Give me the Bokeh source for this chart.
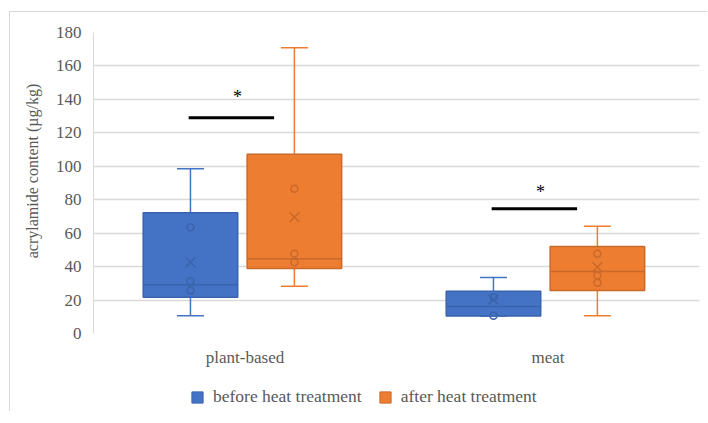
import numpy as np
from bokeh.plotting import figure
from bokeh.layouts import column
from bokeh.models import (ColumnDataSource, FactorRange, Range1d, FixedTicker,
                          Legend, LegendItem)
from bokeh.transform import dodge
from bokeh.core.properties import value
from bokeh.embed import file_html
from bokeh.resources import INLINE

# ---------------- data ----------------
categories = ["plant-based", "meat"]
series_names = ["before heat treatment", "after heat treatment"]

before_low = [10.6, 10.4]
before_q1 = [21.7, 10.4]
before_median = [29.1, 16.1]
before_q3 = [72.2, 25.3]
before_high = [98.5, 33.5]
before_mean = [42.6, 20.3]
before_pts_plant = [63.6, 31.3, 25.7]
before_pts_meat = [21.7, 10.6]

after_low = [28.3, 10.6]
after_q1 = [38.9, 25.7]
after_median = [44.7, 37.1]
after_q3 = [107.2, 52.0]
after_high = [170.9, 64.2]
after_mean = [69.6, 39.7]
after_pts_plant = [86.5, 47.7, 42.6]
after_pts_meat = [47.7, 34.7, 30.3]

sig_bar_y = [129.0, 74.6]
sig_star_y = [141.5, 84.5]
sig_label = ["*", "*"]

y_ticks = [0, 20, 40, 60, 80, 100, 120, 140, 160, 180]

# ---------------- styling ----------------
FONT = "Liberation Serif"
TXT = "#595959"
GRID = "#d9d9d9"
BLUE, BLUE_D = "#4472C4", "#3A63AD"
ORANGE, ORANGE_D = "#ED7D31", "#C9692A"
NBSP = "\u00a0"

p = figure(width=697, height=371, x_range=FactorRange(factors=categories),
           y_range=Range1d(0, 180), output_backend="svg", toolbar_location=None,
           min_border_left=83, min_border_right=8, min_border_top=20,
           min_border_bottom=50)
p.outline_line_color = None

BOX_W = 0.312
CAP_W = 0.089
offsets = [-0.18, 0.163]

specs = [
    (before_low, before_q1, before_median, before_q3, before_high, before_mean,
     before_pts_plant, before_pts_meat, BLUE, BLUE_D),
    (after_low, after_q1, after_median, after_q3, after_high, after_mean,
     after_pts_plant, after_pts_meat, ORANGE, ORANGE_D),
]
for (low, q1, med, q3, high, mean, pts_plant, pts_meat, col, dcol), off in zip(specs, offsets):
    src = ColumnDataSource(dict(cat=categories, low=low, q1=q1, med=med, q3=q3,
                                high=high, mean=mean))
    xc = dodge("cat", off, range=p.x_range)
    xl = dodge("cat", off - CAP_W / 2, range=p.x_range)
    xr = dodge("cat", off + CAP_W / 2, range=p.x_range)
    xbl = dodge("cat", off - BOX_W / 2, range=p.x_range)
    xbr = dodge("cat", off + BOX_W / 2, range=p.x_range)
    # whiskers
    p.segment(x0=xc, y0="q3", x1=xc, y1="high", source=src, line_color=col, line_width=1.5)
    p.segment(x0=xc, y0="low", x1=xc, y1="q1", source=src, line_color=col, line_width=1.5)
    p.segment(x0=xl, y0="high", x1=xr, y1="high", source=src, line_color=col, line_width=1.5)
    p.segment(x0=xl, y0="low", x1=xr, y1="low", source=src, line_color=col, line_width=1.5)
    # box
    p.vbar(x=xc, width=BOX_W, bottom="q1", top="q3", source=src,
           fill_color=col, line_color=dcol, line_width=1.5)
    # median
    p.segment(x0=xbl, y0="med", x1=xbr, y1="med", source=src, line_color=dcol, line_width=1.5)
    # mean
    p.scatter(x=xc, y="mean", source=src, marker="x", size=14, line_color=dcol, line_width=1.5)
    # inner points
    pcat = [categories[0]] * len(pts_plant) + [categories[1]] * len(pts_meat)
    psrc = ColumnDataSource(dict(cat=pcat, val=pts_plant + pts_meat))
    p.scatter(x=xc, y="val", source=psrc, marker="circle", size=7,
              fill_color=None, line_color=dcol, line_width=1.5)

# significance markers
sig_src = ColumnDataSource(dict(cat=categories, y=sig_bar_y, sy=sig_star_y, t=sig_label))
p.segment(x0=dodge("cat", -0.045 - 0.141, range=p.x_range), y0="y",
          x1=dodge("cat", -0.045 + 0.141, range=p.x_range), y1="y",
          source=sig_src, line_color="black", line_width=3)
p.text(x=dodge("cat", -0.025, range=p.x_range), y="sy", text="t", source=sig_src,
       text_font=value(FONT), text_font_size="18px", text_color="black",
       text_align="center", text_baseline="middle")

# axes
p.yaxis.ticker = FixedTicker(ticks=y_ticks)
p.yaxis.axis_label = NBSP * 6 + "acrylamide content (µg/kg)"
p.yaxis.axis_label_text_font = FONT
p.yaxis.axis_label_text_font_style = "normal"
p.yaxis.axis_label_text_font_size = "16px"
p.yaxis.axis_label_text_color = TXT
p.yaxis.axis_label_standoff = 12
p.yaxis.major_label_text_font = FONT
p.yaxis.major_label_text_font_size = "17px"
p.yaxis.major_label_text_color = TXT
p.yaxis.major_tick_line_color = None
p.yaxis.minor_tick_line_color = None
p.yaxis.major_tick_out = 0
p.yaxis.major_label_standoff = 12
p.yaxis.axis_line_color = GRID

p.xaxis.major_label_text_font = FONT
p.xaxis.major_label_text_font_size = "17px"
p.xaxis.major_label_text_color = TXT
p.xaxis.major_tick_line_color = None
p.xaxis.major_tick_out = 0
p.xaxis.major_tick_in = 0
p.xaxis.major_label_standoff = 14
p.xaxis.axis_line_color = None

p.xgrid.grid_line_color = None
p.ygrid.grid_line_color = GRID
p.ygrid.grid_line_width = 1.5

# ---------------- legend strip ----------------
lg = figure(width=697, height=28, x_range=Range1d(0, 1), y_range=Range1d(0, 1),
            output_backend="svg", toolbar_location=None, min_border=0,
            x_axis_location=None, y_axis_location=None)
lg.outline_line_color = None
lg.xgrid.visible = False
lg.ygrid.visible = False
# legend proxies: one undefined (NaN) row each, so nothing is drawn in the strip
proxy = ColumnDataSource(dict(x=np.array([np.nan]), top=np.array([np.nan])))
leg_before = lg.vbar(x="x", top="top", width=0.1, source=proxy,
                     fill_color=BLUE, line_color=BLUE_D, line_width=1)
leg_after = lg.vbar(x="x", top="top", width=0.1, source=proxy,
                    fill_color=ORANGE, line_color=ORANGE_D, line_width=1)
legend = Legend(items=[LegendItem(label=series_names[0], renderers=[leg_before]),
                       LegendItem(label=series_names[1], renderers=[leg_after])],
                orientation="horizontal", location=(97, 4), padding=0, margin=0,
                spacing=16, label_standoff=9, glyph_width=14, glyph_height=14,
                border_line_color=None, background_fill_alpha=0,
                label_text_font=FONT, label_text_font_size="17.5px",
                label_text_color=TXT)
lg.add_layout(legend)

layout = column(p, lg, spacing=0)
layout.styles = {"border-top": "1px solid #d9d9d9", "border-left": "1px solid #d9d9d9",
                 "margin-left": "9px", "margin-top": "11px"}

open("out.html", "w").write(file_html(layout, INLINE))
